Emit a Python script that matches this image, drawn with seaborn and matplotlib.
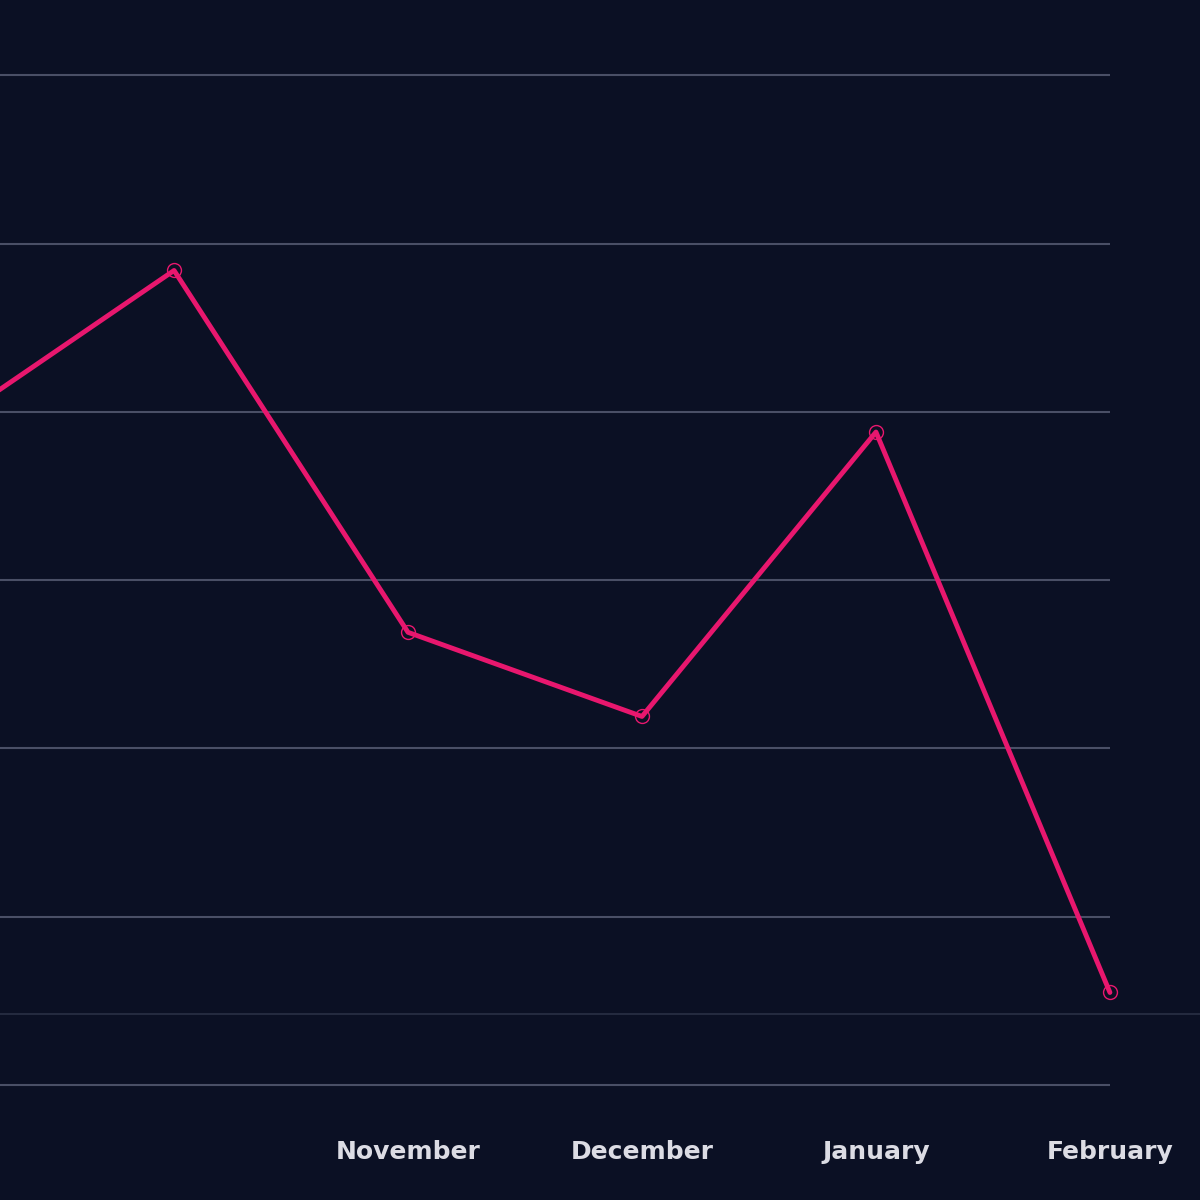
import numpy as np
import pandas as pd
import matplotlib
matplotlib.use("Agg")
import matplotlib.pyplot as plt
import seaborn as sns

# data (no y labels are visible, arbitrary units)
months = ["September", "October", "November", "December", "January", "February"]
values = [38.9, 48.4, 26.9, 21.9, 38.8, 5.5]
shown_labels = ["November", "December", "January", "February"]
grid_values = [0, 10, 20, 30, 40, 50, 60]

bg = "#0b1024"
sns.set_theme(style="dark")
plt.rcParams["font.family"] = ["DejaVu Sans"]

df = pd.DataFrame({"pos": np.arange(len(months)), "value": values})

fig = plt.figure(figsize=(12, 12), dpi=100, facecolor=bg)
ax = fig.add_axes([0, 0, 1, 1])
ax.set_facecolor(bg)

ax.hlines(grid_values, -1, len(months) - 1, color="#4a4f66", lw=1.5, zorder=1)
ax.axhline(4.2, color="#2a3045", lw=1.2, zorder=1)

sns.lineplot(data=df, x="pos", y="value", ax=ax, color="#e8176e", lw=3.5,
             marker="o", markersize=10, markerfacecolor="none",
             markeredgecolor="#e8176e", markeredgewidth=1, zorder=3)

for m in shown_labels:
    ax.text(months.index(m), -3.98, m, ha="center", va="center",
            fontsize=18, color="#dcdce4", fontweight="bold")

ax.set_xlim(0.256, 5.385)
ax.set_ylim(-6.83, 64.47)
ax.set_xticks([])
ax.set_yticks([])
ax.set_xlabel("")
ax.set_ylabel("")
for s in ax.spines.values():
    s.set_visible(False)

fig.savefig("out.png", dpi=100, facecolor=bg)
